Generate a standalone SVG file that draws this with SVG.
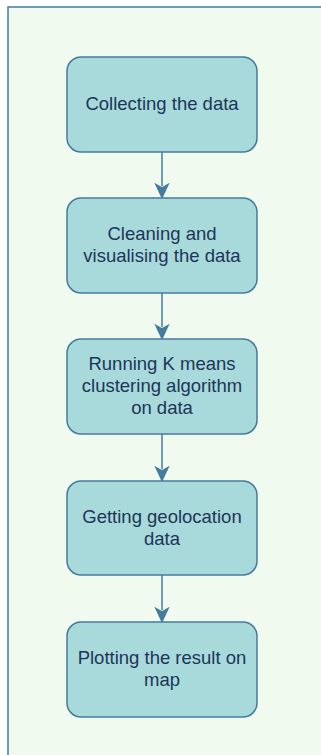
<svg xmlns="http://www.w3.org/2000/svg" width="321" height="755" viewBox="0 0 321 755">
<style>
.box{fill:#a8dadc;stroke:#457b9d;stroke-width:1.5}
.t{font-family:"Liberation Sans",Arial,sans-serif;font-size:18.5px;fill:#1d3557;text-anchor:middle}
.c{stroke:#457b9d;stroke-width:1.5;fill:none}
.h{fill:#457b9d;stroke:#457b9d;stroke-width:1.5}
</style>
<rect x="0" y="0" width="321" height="755" fill="#ffffff"/>
<rect x="8" y="7" width="330" height="760" fill="#f1faee" stroke="#457b9d" stroke-width="1.5"/>
<g id="connectors">
<path class="c" d="M162 152V186"/><path class="h" d="M162 197.5l-6-13 6 3.5 6-3.5z"/>
<path class="c" d="M162 293V327"/><path class="h" d="M162 338.5l-6-13 6 3.5 6-3.5z"/>
<path class="c" d="M162 434V469"/><path class="h" d="M162 480.5l-6-13 6 3.5 6-3.5z"/>
<path class="c" d="M162 575V610"/><path class="h" d="M162 621.5l-6-13 6 3.5 6-3.5z"/>
</g>
<g id="n1"><rect class="box" x="67" y="57" width="190" height="95" rx="14"/><text class="t" x="162" y="110">Collecting the data</text></g>
<g id="n2"><rect class="box" x="67" y="198" width="190" height="95" rx="14"/><text class="t" x="162" y="240">Cleaning and</text><text class="t" x="162" y="262">visualising the data</text></g>
<g id="n3"><rect class="box" x="67" y="339" width="190" height="95" rx="14"/><text class="t" x="162" y="370">Running K means</text><text class="t" x="162" y="392">clustering algorithm</text><text class="t" x="162" y="414">on data</text></g>
<g id="n4"><rect class="box" x="67" y="481" width="190" height="94" rx="14"/><text class="t" x="162" y="523">Getting geolocation</text><text class="t" x="162" y="545">data</text></g>
<g id="n5"><rect class="box" x="67" y="622" width="190" height="95" rx="14"/><text class="t" x="162" y="664">Plotting the result on</text><text class="t" x="162" y="686">map</text></g>
</svg>
